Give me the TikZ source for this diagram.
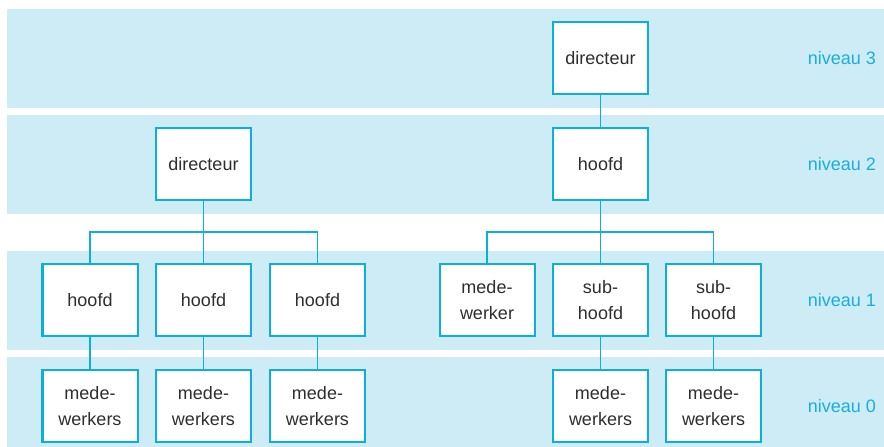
\documentclass[tikz,border=0pt]{standalone}
\usepackage{fontspec}
\setmainfont{Liberation Sans}
\definecolor{bandfill}{HTML}{CDECF5}
\definecolor{linecol}{HTML}{0AAFDC}
\definecolor{labelcol}{HTML}{1BAEDC}
\definecolor{textcol}{HTML}{2E2E2E}
\tikzset{
  orgbox/.style={draw=linecol, line width=2bp, fill=white, minimum width=95bp,
    minimum height=72bp, inner sep=0pt, align=center, text=textcol,
    font=\fontsize{18bp}{26bp}\selectfont},
  levellabel/.style={anchor=east, inner sep=0pt, text=labelcol,
    font=\fontsize{18bp}{22bp}\selectfont},
  conn/.style={draw=linecol, line width=1.4bp},
  band/.style={fill=bandfill, draw=none}
}
\begin{document}
\begin{tikzpicture}[x=1bp, y=-1bp]
  \useasboundingbox (0,0) rectangle (884,447);
  % level bands
  \fill[band] (7,9) rectangle (884,108);
  \fill[band] (7,115) rectangle (884,214);
  \fill[band] (7,251) rectangle (884,350);
  \fill[band] (7,357) rectangle (884,447);

  % level labels
  \node[levellabel] (n3) at (876,58) {niveau 3};
  \node[levellabel] (n2) at (876,164) {niveau 2};
  \node[levellabel] (n1) at (876,300) {niveau 1};
  \node[levellabel] (n0) at (876,406) {niveau 0};

  % left organisation
  \node[orgbox] (dirL) at (203.5,164) {directeur};
  \node[orgbox] (hL1) at (90,300) {hoofd};
  \node[orgbox] (hL2) at (203.5,300) {hoofd};
  \node[orgbox] (hL3) at (317.5,300) {hoofd};
  \node[orgbox] (mL1) at (90,406) {mede-\\werkers};
  \node[orgbox] (mL2) at (203.5,406) {mede-\\werkers};
  \node[orgbox] (mL3) at (317.5,406) {mede-\\werkers};

  % right organisation
  \node[orgbox] (dirR) at (600.5,58) {directeur};
  \node[orgbox] (hR) at (600.5,164) {hoofd};
  \node[orgbox] (mwR) at (487,300) {mede-\\werker};
  \node[orgbox] (sR1) at (600.5,300) {sub-\\hoofd};
  \node[orgbox] (sR2) at (713.5,300) {sub-\\hoofd};
  \node[orgbox] (mR1) at (600.5,406) {mede-\\werkers};
  \node[orgbox] (mR2) at (713.5,406) {mede-\\werkers};

  % branching points
  \coordinate (busL) at (203.5,232);
  \coordinate (busR) at (600.5,232);

  % connectors, left tree
  \draw[conn] (dirL.south) -- (busL);
  \draw[conn] (busL) -| (hL1.north);
  \draw[conn] (busL) -- (hL2.north);
  \draw[conn] (busL) -| (hL3.north);
  \draw[conn] (hL1.south) -- (mL1.north);
  \draw[conn] (hL2.south) -- (mL2.north);
  \draw[conn] (hL3.south) -- (mL3.north);

  % connectors, right tree
  \draw[conn] (dirR.south) -- (hR.north);
  \draw[conn] (hR.south) -- (busR);
  \draw[conn] (busR) -| (mwR.north);
  \draw[conn] (busR) -- (sR1.north);
  \draw[conn] (busR) -| (sR2.north);
  \draw[conn] (sR1.south) -- (mR1.north);
  \draw[conn] (sR2.south) -- (mR2.north);
\end{tikzpicture}
\end{document}
